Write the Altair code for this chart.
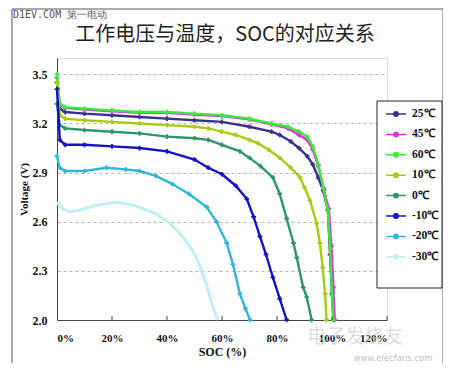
import altair as alt
import pandas as pd

series = ["25℃", "45℃", "60℃", "10℃", "0℃", "-10℃", "-20℃", "-30℃"]
colors = ["#36338F", "#E033E0", "#3DE83D", "#A6CC12", "#2F9468", "#1212C2", "#32B6D8", "#C2F1F3"]

soc_25 = [0, 1, 3, 10, 20, 30, 40, 50, 60, 70, 78, 81, 85, 88, 91, 93, 95, 96.8, 98.5, 99.3, 100, 100.5]
v_25 = [3.45, 3.29, 3.27, 3.26, 3.25, 3.24, 3.23, 3.22, 3.21, 3.18, 3.15, 3.13, 3.09, 3.05, 3.00, 2.95, 2.87, 2.79, 2.67, 2.40, 2.16, 2.0]

soc_45 = [0, 1, 3, 10, 20, 30, 40, 50, 60, 70, 78, 84, 88, 91, 93, 95, 97, 98.8, 99.8, 100.5, 101]
v_45 = [3.48, 3.315, 3.295, 3.285, 3.275, 3.265, 3.265, 3.255, 3.245, 3.225, 3.195, 3.17, 3.13, 3.10, 3.04, 2.94, 2.80, 2.68, 2.45, 2.20, 2.0]

soc_60 = [0, 1, 3, 10, 20, 30, 40, 50, 60, 70, 78, 84, 88, 91, 93, 95, 96.8, 98.5, 99.3, 100, 100.5]
v_60 = [3.50, 3.32, 3.30, 3.29, 3.28, 3.27, 3.27, 3.26, 3.25, 3.23, 3.20, 3.18, 3.15, 3.12, 3.06, 2.95, 2.81, 2.67, 2.44, 2.15, 2.0]

soc_10 = [0, 1, 3, 10, 20, 30, 40, 50, 55, 60, 65, 70, 73, 77, 81, 85, 88.4, 90, 92, 94.4, 95.6, 96.6, 97.5, 98]
v_10 = [3.45, 3.25, 3.23, 3.22, 3.21, 3.20, 3.19, 3.18, 3.17, 3.15, 3.13, 3.10, 3.08, 3.04, 2.99, 2.93, 2.87, 2.81, 2.73, 2.59, 2.47, 2.32, 2.16, 2.0]

soc_0 = [0, 1, 3, 10, 20, 30, 40, 50, 55, 60, 66.5, 70, 74, 78.5, 81, 83.5, 86, 87.2, 89.5, 90.8, 92.6]
v_0 = [3.32, 3.19, 3.17, 3.16, 3.15, 3.14, 3.12, 3.11, 3.10, 3.07, 3.03, 2.99, 2.94, 2.87, 2.77, 2.62, 2.47, 2.38, 2.20, 2.14, 2.0]

soc_m10 = [0, 1, 3, 10, 20, 30, 40, 50, 55, 60, 65, 69, 71.5, 73.8, 76, 78.5, 81, 83.5]
v_m10 = [3.41, 3.10, 3.07, 3.07, 3.06, 3.05, 3.03, 2.98, 2.93, 2.89, 2.82, 2.74, 2.63, 2.51, 2.40, 2.26, 2.13, 2.0]

soc_m20 = [0, 1, 3, 10, 18, 25, 30, 36, 42, 48, 54.4, 58, 61.7, 64, 66.5, 68.5, 70.2]
v_m20 = [3.00, 2.93, 2.91, 2.91, 2.93, 2.92, 2.91, 2.88, 2.83, 2.77, 2.69, 2.60, 2.47, 2.34, 2.16, 2.07, 2.0]

soc_m30 = [0, 2, 4.7, 8, 14, 21.7, 28, 36, 41, 44.7, 49.5, 52, 55, 56.7, 58.5]
v_m30 = [2.72, 2.68, 2.66, 2.67, 2.70, 2.72, 2.70, 2.65, 2.59, 2.53, 2.42, 2.33, 2.18, 2.08, 2.0]

x_ticks = [0, 20, 40, 60, 80, 100, 120]
y_ticks = [2.0, 2.3, 2.6, 2.9, 3.2, 3.5]

all_soc = [soc_25, soc_45, soc_60, soc_10, soc_0, soc_m10, soc_m20, soc_m30]
all_v = [v_25, v_45, v_60, v_10, v_0, v_m10, v_m20, v_m30]

rows = []
for name, ss, vv in zip(series, all_soc, all_v):
    for s, v in zip(ss, vv):
        rows.append({"series": name, "soc": s, "v": v})
df = pd.DataFrame(rows)

W, H = 330, 262
serif = "Liberation Serif"

x_enc = alt.X("soc:Q", scale=alt.Scale(domain=[0, 120], nice=False),
              axis=alt.Axis(values=x_ticks, labelExpr="datum.value + '%'", title="SOC (%)",
                            grid=False, ticks=False, labelPadding=12, titlePadding=3,
                            labelFont=serif, labelFontWeight="bold", labelFontSize=11,
                            titleFont=serif, titleFontWeight="bold", titleFontSize=12,
                            labelColor="#111", titleColor="#111", domainColor="#444"))
y_enc = alt.Y("v:Q", scale=alt.Scale(domain=[2.0, 3.6], nice=False),
              axis=alt.Axis(values=y_ticks, format=".1f", title="Voltage (V)",
                            grid=True, gridDash=[3, 3], gridColor="#b5b5b5", ticks=False,
                            labelPadding=10, titlePadding=3,
                            labelFont=serif, labelFontWeight="bold", labelFontSize=12,
                            titleFont=serif, titleFontWeight="bold", titleFontSize=11,
                            labelColor="#111", titleColor="#111", domainColor="#444"))

legend_path = "M-1,0H1M-0.22,0A0.22,0.22,0,1,0,0.22,0A0.22,0.22,0,1,0,-0.22,0"
color_enc = alt.Color("series:N", scale=alt.Scale(domain=series, range=colors),
                      legend=alt.Legend(orient="none", legendX=328, legendY=45, title=None,
                                        symbolType=legend_path, symbolSize=400,
                                        symbolStrokeWidth=1.5, padding=0, rowPadding=3.4,
                                        labelOffset=5, labelFont=serif, labelFontWeight="bold",
                                        labelFontSize=11.5, labelColor="#111"))

one = pd.DataFrame({"a": [0]})

frame = alt.Chart(one).mark_rect(fill=None, stroke="#555", strokeWidth=1).encode(
    x=alt.value(-45), x2=alt.value(386), y=alt.value(-49), y2=alt.value(308))

legend_box = alt.Chart(one).mark_rect(fill="white", stroke="#222", strokeWidth=1).encode(
    x=alt.value(320), x2=alt.value(385), y=alt.value(43), y2=alt.value(230))

tick_df = pd.DataFrame({"t": x_ticks[1:]})
tick_rules = alt.Chart(tick_df).mark_rule(color="#444").encode(
    x=alt.X("t:Q", scale=alt.Scale(domain=[0, 120], nice=False)),
    y=alt.value(H - 4), y2=alt.value(H))

layers = [frame, legend_box]
for name in series:
    base = alt.Chart(df).transform_filter(alt.datum.series == name)
    sw = 3.2 if name == "-30℃" else 2.4
    layers.append(base.mark_line(strokeWidth=sw).encode(x=x_enc, y=y_enc, color=color_enc))
    if name != "-30℃":
        layers.append(base.mark_point(shape="cross", filled=True, size=22, opacity=1).encode(
            x=x_enc, y=y_enc, color=color_enc))
layers.append(tick_rules)

title = alt.Chart(one).mark_text(text="工作电压与温度，SOC的对应关系", font="Noto Sans CJK SC",
                                 fontSize=20, color="#222", align="center", baseline="middle").encode(
    x=alt.value(168), y=alt.value(-23))
wm1 = alt.Chart(one).mark_text(text="D1EV.COM 第一电动", font="DejaVu Sans Mono", fontSize=10,
                               color="#555", align="left", baseline="bottom").encode(
    x=alt.value(-44), y=alt.value(-38))
wm2 = alt.Chart(one).mark_text(text="电子发烧友", font="Noto Sans CJK SC", fontSize=19,
                               color="#c8c8c8", opacity=0.6, align="center", baseline="middle").encode(
    x=alt.value(298), y=alt.value(279))
wm3 = alt.Chart(one).mark_text(text="www.elecfans.com", font="DejaVu Sans", fontSize=8.5,
                               color="#c0c0c0", align="center", baseline="middle").encode(
    x=alt.value(336), y=alt.value(300))
layers += [title, wm1, wm2, wm3]

chart = alt.layer(*layers).properties(
    width=W, height=H,
    autosize=alt.AutoSizeParams(type="none"),
    padding={"left": 49, "top": 50, "right": 56, "bottom": 43},
).configure_view(stroke="#999", strokeWidth=1).configure(background="white")

chart.save("out.html", embed_options={"renderer": "svg", "actions": False})
